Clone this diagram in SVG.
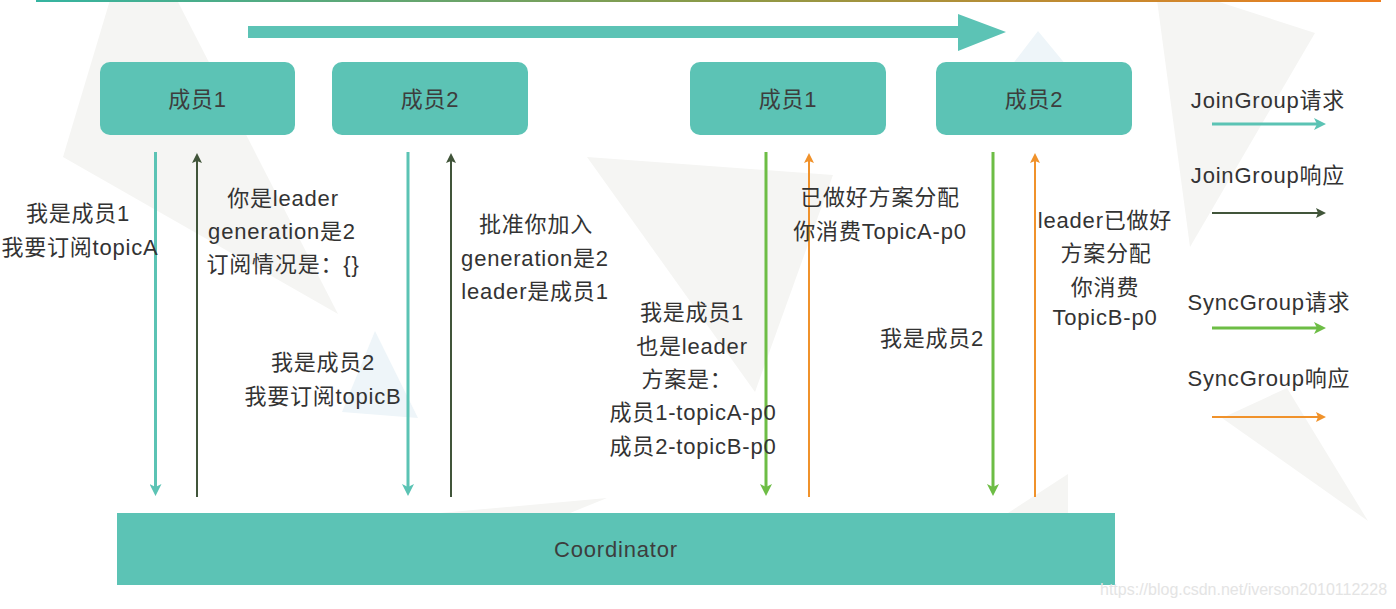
<svg xmlns="http://www.w3.org/2000/svg" width="1396" height="609" viewBox="0 0 1396 609">
  <defs>
    <linearGradient id="topGrad" x1="0" y1="0" x2="1" y2="0">
      <stop offset="0" stop-color="#35b4a1"/>
      <stop offset="0.5" stop-color="#8a9a48"/>
      <stop offset="1" stop-color="#ef7e1f"/>
    </linearGradient>
    <marker id="mTeal" markerUnits="userSpaceOnUse" markerWidth="12" markerHeight="12" refX="3" refY="6" orient="auto">
      <path d="M0,0 L12,6 L0,12 L3,6 Z" fill="#5bc3b4"/>
    </marker>
    <marker id="mDark" markerUnits="userSpaceOnUse" markerWidth="10" markerHeight="10" refX="2" refY="5" orient="auto">
      <path d="M0,0 L10,5 L0,10 L2,5 Z" fill="#41553a"/>
    </marker>
    <marker id="mGreen" markerUnits="userSpaceOnUse" markerWidth="12" markerHeight="12" refX="3" refY="6" orient="auto">
      <path d="M0,0 L12,6 L0,12 L3,6 Z" fill="#6dbd45"/>
    </marker>
    <marker id="mOrange" markerUnits="userSpaceOnUse" markerWidth="10" markerHeight="10" refX="2" refY="5" orient="auto">
      <path d="M0,0 L10,5 L0,10 L2,5 Z" fill="#f0922b"/>
    </marker>
  </defs>
  <style>
    .bg { fill: #f5f5f3; }
    .bgb { fill: #eef5f9; }
    .box { fill: #5cc3b5; }
    .t { font-family: "Liberation Sans", "Noto Sans CJK SC", sans-serif; font-size: 22px; fill: #333333; text-anchor: middle; letter-spacing: 0.8px; }
    .bt { fill: #3d3d3d; }
    .teal { stroke: #5bc3b4; stroke-width: 3; fill: none; marker-end: url(#mTeal); }
    .dark { stroke: #41553a; stroke-width: 2; fill: none; marker-end: url(#mDark); }
    .green { stroke: #6dbd45; stroke-width: 3; fill: none; marker-end: url(#mGreen); }
    .orange { stroke: #f0922b; stroke-width: 2; fill: none; marker-end: url(#mOrange); }
    .wm { font-family: "Liberation Sans", sans-serif; font-size: 16px; fill: #e4e4e4; }
  </style>

  <rect width="1396" height="609" fill="#ffffff"/>

  <g id="background">
    <polygon class="bg" points="110,0 177,0 338,314 63,157"/>
    <polygon class="bgb" points="375,331 418,418 342,412"/>
    <polygon class="bg" points="587,157 833,175 755,392"/>
    <polygon class="bg" points="440,513 607,498 570,513"/>
    <polygon class="bgb" points="1038,31 985,100 1095,100"/>
    <polygon class="bg" points="1157,0 1213,0 1315,33 1190,247"/>
    <polygon class="bg" points="1287,388 1222,418 1368,521"/>
    <polygon class="bg" points="1068,474 1068,513 1008,513"/>
  </g>

  <rect id="top-line" x="36" y="0" width="1345" height="2" fill="url(#topGrad)"/>
  <polygon id="time-arrow" points="248,26 958,26 958,14 1006,32 958,51 958,38 248,38" fill="#5cc3b5"/>

  <g id="node-member1-join">
    <rect class="box" x="100" y="62" width="195" height="73" rx="10"/>
    <text class="t bt" x="197.5" y="107">成员1</text>
  </g>
  <g id="node-member2-join">
    <rect class="box" x="332" y="62" width="196" height="73" rx="10"/>
    <text class="t bt" x="430" y="107">成员2</text>
  </g>
  <g id="node-member1-sync">
    <rect class="box" x="690" y="62" width="196" height="73" rx="10"/>
    <text class="t bt" x="788" y="107">成员1</text>
  </g>
  <g id="node-member2-sync">
    <rect class="box" x="936" y="62" width="196" height="73" rx="10"/>
    <text class="t bt" x="1034" y="107">成员2</text>
  </g>
  <g id="node-coordinator">
    <rect class="box" x="117" y="513" width="998" height="72"/>
    <text class="t bt" x="616" y="557">Coordinator</text>
  </g>

  <g id="connectors">
    <line class="teal" x1="155.5" y1="152" x2="155.5" y2="487"/>
    <line class="dark" x1="197" y1="497" x2="197" y2="161"/>
    <line class="teal" x1="408" y1="152" x2="408" y2="487"/>
    <line class="dark" x1="451" y1="497" x2="451" y2="161"/>
    <line class="green" x1="766" y1="152" x2="766" y2="487"/>
    <line class="orange" x1="809" y1="497" x2="809" y2="161"/>
    <line class="green" x1="993" y1="152" x2="993" y2="487"/>
    <line class="orange" x1="1035" y1="497" x2="1035" y2="161"/>
  </g>

  <g id="labels">
    <text class="t" x="78" y="221">我是成员1</text>
    <text class="t" x="80" y="255">我要订阅topicA</text>
    <text class="t" x="283" y="206">你是leader</text>
    <text class="t" x="282" y="239">generation是2</text>
    <text class="t" x="283" y="272">订阅情况是：{}</text>
    <text class="t" x="323" y="370">我是成员2</text>
    <text class="t" x="323" y="404">我要订阅topicB</text>
    <text class="t" x="536" y="232">批准你加入</text>
    <text class="t" x="535" y="266">generation是2</text>
    <text class="t" x="535" y="299">leader是成员1</text>
    <text class="t" x="692" y="320">我是成员1</text>
    <text class="t" x="692" y="354">也是leader</text>
    <text class="t" x="687" y="387">方案是：</text>
    <text class="t" x="693" y="420">成员1-topicA-p0</text>
    <text class="t" x="693" y="454">成员2-topicB-p0</text>
    <text class="t" x="880" y="205">已做好方案分配</text>
    <text class="t" x="880" y="239">你消费TopicA-p0</text>
    <text class="t" x="932" y="346">我是成员2</text>
    <text class="t" x="1105" y="228">leader已做好</text>
    <text class="t" x="1106" y="261">方案分配</text>
    <text class="t" x="1105" y="295">你消费</text>
    <text class="t" x="1105" y="325">TopicB-p0</text>
  </g>

  <g id="legend">
    <g id="legend-join-request">
      <text class="t" x="1268" y="108">JoinGroup请求</text>
      <line class="teal" x1="1212" y1="124" x2="1317" y2="124"/>
    </g>
    <g id="legend-join-response">
      <text class="t" x="1268" y="183">JoinGroup响应</text>
      <line class="dark" x1="1212" y1="213" x2="1318" y2="213"/>
    </g>
    <g id="legend-sync-request">
      <text class="t" x="1269" y="310">SyncGroup请求</text>
      <line class="green" x1="1212" y1="328" x2="1317" y2="328"/>
    </g>
    <g id="legend-sync-response">
      <text class="t" x="1269" y="386">SyncGroup响应</text>
      <line class="orange" x1="1212" y1="417" x2="1318" y2="417"/>
    </g>
  </g>

  <text class="wm" x="1100" y="595">https://blog.csdn.net/iverson2010112228</text>
</svg>
